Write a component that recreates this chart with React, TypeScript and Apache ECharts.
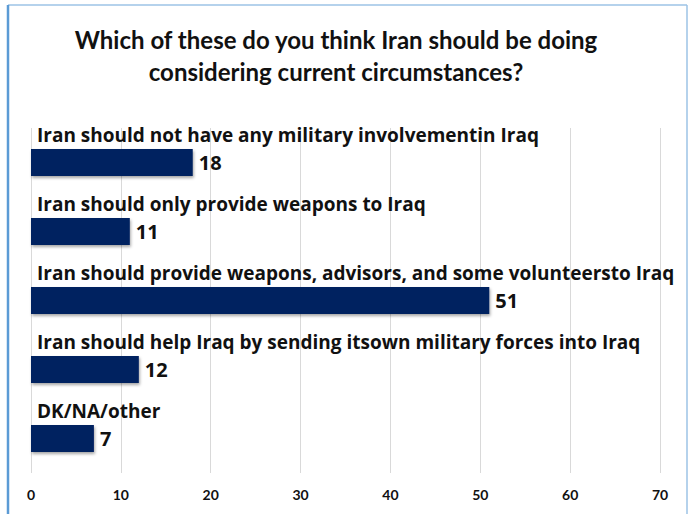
import React, { useEffect, useRef } from "react";
import * as echarts from "echarts";

const categories = [
  "Iran should not have any military involvementin Iraq",
  "Iran should only provide weapons to Iraq",
  "Iran should provide weapons, advisors, and some volunteersto Iraq",
  "Iran should help Iraq by sending itsown military forces into Iraq",
  "DK/NA/other",
];
const values = [18, 11, 51, 12, 7];
const xTicks = [0, 10, 20, 30, 40, 50, 60, 70];
const title = "Which of these do you think Iran should be doing\nconsidering current circumstances?";

const FONT = "Lato";
const LABEL_FONT = "Open Sans";

export default function App() {
  const ref = useRef<HTMLDivElement>(null);
  useEffect(() => {
    const chart = echarts.init(ref.current!, null, { renderer: "svg" });
    chart.setOption({
      animation: false,
      backgroundColor: "#ffffff",
      title: {
        text: title,
        left: 331,
        top: 18,
        textAlign: "center",
        textStyle: {
          fontFamily: FONT,
          fontSize: 24,
          fontWeight: "bold",
          color: "#111111",
          lineHeight: 32,
        },
      },
      graphic: [
        { type: "line", shape: { x1: 8, y1: 5, x2: 687, y2: 5 }, style: { stroke: "#9dc3e6", lineWidth: 1.5 } },
        { type: "line", shape: { x1: 8, y1: 5, x2: 8, y2: 514 }, style: { stroke: "#5b9bd5", lineWidth: 2.5 } },
        { type: "line", shape: { x1: 687, y1: 5, x2: 687, y2: 514 }, style: { stroke: "#9dc3e6", lineWidth: 1.5 } },
      ],
      grid: { left: 31, right: 30, top: 128, bottom: 41, containLabel: false },
      xAxis: {
        type: "value",
        min: 0,
        max: 70,
        interval: 10,
        axisLine: { show: false },
        axisTick: { show: false },
        splitLine: { show: true, lineStyle: { color: "#d9d9d9", width: 1 } },
        axisLabel: {
          fontFamily: FONT,
          fontSize: 14,
          fontWeight: "bold",
          color: "#111111",
          margin: 14,
          formatter: (v: number) => (xTicks.includes(v) ? String(v) : ""),
        },
      },
      yAxis: {
        type: "category",
        data: categories,
        inverse: true,
        axisLine: { show: false },
        axisTick: { show: false },
        axisLabel: { show: false },
        splitLine: { show: false },
      },
      series: [
        {
          type: "bar",
          data: values,
          barWidth: 27,
          z: 3,
          itemStyle: {
            color: "#002060",
            shadowColor: "rgba(0,0,0,0.35)",
            shadowBlur: 3,
            shadowOffsetX: 1,
            shadowOffsetY: 2,
          },
          label: {
            show: true,
            position: "right",
            distance: 6,
            fontFamily: LABEL_FONT,
            fontSize: 20,
            fontWeight: "bold",
            color: "#111111",
          },
        },
        {
          type: "bar",
          data: values,
          barWidth: 27,
          barGap: "-100%",
          z: 4,
          itemStyle: { color: "rgba(0,0,0,0)" },
          label: {
            show: true,
            position: [6, -14],
            align: "left",
            verticalAlign: "middle",
            fontFamily: LABEL_FONT,
            fontSize: 19,
            fontWeight: "bold",
            color: "#111111",
            formatter: (p: any) => p.name,
          },
          silent: true,
        },
      ],
    });
    return () => chart.dispose();
  }, []);
  return <div ref={ref} style={{ width: 690, height: 514, position: "absolute", left: 0, top: 0 }} />;
}
